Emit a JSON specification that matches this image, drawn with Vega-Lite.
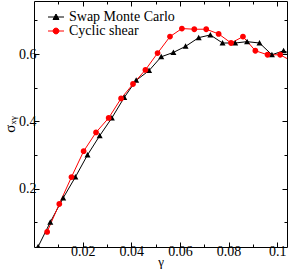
{
  "$schema": "https://vega.github.io/schema/vega-lite/v6.json",
  "width": 253,
  "height": 246,
  "autosize": {"type": "none"},
  "padding": {"left": 34, "top": 1, "right": 4, "bottom": 24},
  "background": "white",
  "config": {
    "view": {"stroke": "black", "strokeWidth": 1},
    "font": "Liberation Serif",
    "axis": {
      "grid": false,
      "domain": false,
      "tickColor": "black",
      "tickWidth": 1,
      "labelFont": "Liberation Serif",
      "labelFontSize": 14,
      "labelColor": "black",
      "titleFont": "Liberation Serif",
      "titleFontWeight": "normal",
      "titleColor": "black"
    },
    "legend": {
      "labelFont": "Liberation Serif",
      "labelFontSize": 14,
      "labelColor": "black"
    }
  },
  "data": {
    "values": [
      {"series": "Swap Monte Carlo", "gamma": 0.0017, "sigma": 0.027},
      {"series": "Swap Monte Carlo", "gamma": 0.0067, "sigma": 0.100},
      {"series": "Swap Monte Carlo", "gamma": 0.0120, "sigma": 0.172},
      {"series": "Swap Monte Carlo", "gamma": 0.0170, "sigma": 0.234},
      {"series": "Swap Monte Carlo", "gamma": 0.0220, "sigma": 0.300},
      {"series": "Swap Monte Carlo", "gamma": 0.0270, "sigma": 0.357},
      {"series": "Swap Monte Carlo", "gamma": 0.0320, "sigma": 0.410},
      {"series": "Swap Monte Carlo", "gamma": 0.0371, "sigma": 0.471},
      {"series": "Swap Monte Carlo", "gamma": 0.0420, "sigma": 0.522},
      {"series": "Swap Monte Carlo", "gamma": 0.0473, "sigma": 0.551},
      {"series": "Swap Monte Carlo", "gamma": 0.0523, "sigma": 0.592},
      {"series": "Swap Monte Carlo", "gamma": 0.0573, "sigma": 0.605},
      {"series": "Swap Monte Carlo", "gamma": 0.0623, "sigma": 0.623},
      {"series": "Swap Monte Carlo", "gamma": 0.0677, "sigma": 0.649},
      {"series": "Swap Monte Carlo", "gamma": 0.0725, "sigma": 0.657},
      {"series": "Swap Monte Carlo", "gamma": 0.0775, "sigma": 0.633},
      {"series": "Swap Monte Carlo", "gamma": 0.0827, "sigma": 0.633},
      {"series": "Swap Monte Carlo", "gamma": 0.0876, "sigma": 0.637},
      {"series": "Swap Monte Carlo", "gamma": 0.0927, "sigma": 0.633},
      {"series": "Swap Monte Carlo", "gamma": 0.0978, "sigma": 0.598},
      {"series": "Swap Monte Carlo", "gamma": 0.1026, "sigma": 0.610},
      {"series": "Swap Monte Carlo", "gamma": 0.1076, "sigma": 0.594},
      {"series": "Cyclic shear", "gamma": 0.0054, "sigma": 0.071},
      {"series": "Cyclic shear", "gamma": 0.0104, "sigma": 0.154},
      {"series": "Cyclic shear", "gamma": 0.0154, "sigma": 0.234},
      {"series": "Cyclic shear", "gamma": 0.0204, "sigma": 0.311},
      {"series": "Cyclic shear", "gamma": 0.0255, "sigma": 0.367},
      {"series": "Cyclic shear", "gamma": 0.0307, "sigma": 0.410},
      {"series": "Cyclic shear", "gamma": 0.0358, "sigma": 0.468},
      {"series": "Cyclic shear", "gamma": 0.0407, "sigma": 0.511},
      {"series": "Cyclic shear", "gamma": 0.0458, "sigma": 0.553},
      {"series": "Cyclic shear", "gamma": 0.0508, "sigma": 0.603},
      {"series": "Cyclic shear", "gamma": 0.0559, "sigma": 0.652},
      {"series": "Cyclic shear", "gamma": 0.0608, "sigma": 0.676},
      {"series": "Cyclic shear", "gamma": 0.0659, "sigma": 0.674},
      {"series": "Cyclic shear", "gamma": 0.0708, "sigma": 0.674},
      {"series": "Cyclic shear", "gamma": 0.0759, "sigma": 0.660},
      {"series": "Cyclic shear", "gamma": 0.0810, "sigma": 0.633},
      {"series": "Cyclic shear", "gamma": 0.0859, "sigma": 0.652},
      {"series": "Cyclic shear", "gamma": 0.0910, "sigma": 0.610},
      {"series": "Cyclic shear", "gamma": 0.0960, "sigma": 0.598},
      {"series": "Cyclic shear", "gamma": 0.1012, "sigma": 0.598},
      {"series": "Cyclic shear", "gamma": 0.1062, "sigma": 0.578}
    ]
  },
  "resolve": {"axis": {"x": "independent", "y": "independent"}},
  "layer": [
    {
      "mark": {"type": "line", "strokeWidth": 1, "clip": true},
      "encoding": {
        "x": {
          "field": "gamma", "type": "quantitative",
          "scale": {"domain": [0, 0.104], "nice": false, "zero": false},
          "axis": {
            "orient": "bottom",
            "title": "γ",
            "titleFontSize": 13,
            "titlePadding": -3,
            "values": [0.01, 0.02, 0.03, 0.04, 0.05, 0.06, 0.07, 0.08, 0.09, 0.1],
            "format": "~g",
            "labelExpr": "abs(datum.value*50 - round(datum.value*50)) < 0.001 ? datum.label : ''",
            "tickSize": {"condition": {"test": "abs(datum.value*50 - round(datum.value*50)) > 0.001", "value": -3}, "value": -5},
            "labelPadding": 2
          }
        },
        "y": {
          "field": "sigma", "type": "quantitative",
          "scale": {"domain": [0.026, 0.758], "nice": false, "zero": false},
          "axis": {
            "orient": "left",
            "title": "σₓᵧ",
            "titleFontSize": 15,
            "titlePadding": 1,
            "values": [0.1, 0.2, 0.3, 0.4, 0.5, 0.6, 0.7],
            "format": "~g",
            "labelExpr": "abs(datum.value*5 - round(datum.value*5)) < 0.001 ? datum.label : ''",
            "tickSize": {"condition": {"test": "abs(datum.value*5 - round(datum.value*5)) > 0.001", "value": -3}, "value": -5},
            "labelPadding": 3
          }
        },
        "color": {
          "field": "series", "type": "nominal",
          "scale": {"domain": ["Swap Monte Carlo", "Cyclic shear"], "range": ["#000000", "#ff0000"]},
          "legend": {
            "title": null,
            "orient": "none",
            "legendX": 15,
            "legendY": 9,
            "labelFont": "Liberation Serif",
            "labelFontSize": 14,
            "labelColor": "black",
            "symbolSize": 100,
            "symbolStrokeWidth": 1,
            "rowPadding": 0,
            "labelOffset": 6
          }
        }
      }
    },
    {
      "mark": {"type": "point", "filled": true, "opacity": 1, "clip": true, "size": 100, "strokeWidth": 0},
      "encoding": {
        "x": {
          "field": "gamma", "type": "quantitative",
          "axis": {
            "orient": "top",
            "title": null,
            "labels": false,
            "values": [0.01, 0.02, 0.03, 0.04, 0.05, 0.06, 0.07, 0.08, 0.09, 0.1],
            "tickSize": {"condition": {"test": "abs(datum.value*50 - round(datum.value*50)) > 0.001", "value": -3}, "value": -5}
          }
        },
        "y": {
          "field": "sigma", "type": "quantitative",
          "axis": {
            "orient": "right",
            "title": null,
            "labels": false,
            "values": [0.1, 0.2, 0.3, 0.4, 0.5, 0.6, 0.7],
            "tickSize": {"condition": {"test": "abs(datum.value*5 - round(datum.value*5)) > 0.001", "value": -3}, "value": -5}
          }
        },
        "color": {"field": "series", "type": "nominal", "legend": null},
        "stroke": {
          "field": "series", "type": "nominal",
          "scale": {"domain": ["Swap Monte Carlo", "Cyclic shear"], "range": ["#000000", "#ff0000"]},
          "legend": null
        },
        "shape": {
          "field": "series", "type": "nominal",
          "scale": {"domain": ["Swap Monte Carlo", "Cyclic shear"], "range": ["M-1.6,0H1.6M-0.6,0.5L0,-0.6L0.6,0.5Z", "M-1.6,0H1.6M0.58,0A0.58,0.58 0 1,1 -0.58,0A0.58,0.58 0 1,1 0.58,0Z"]},
          "legend": null
        }
      }
    }
  ]
}
